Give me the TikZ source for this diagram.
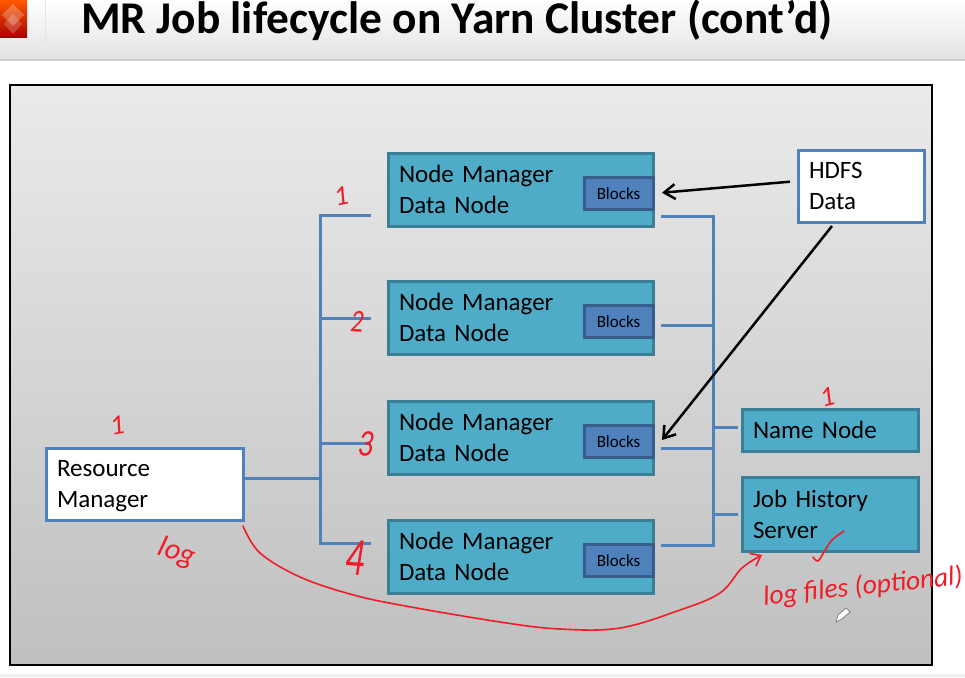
\documentclass[tikz,border=0pt]{standalone}
\usepackage{fontspec}
\setmainfont{Carlito}
\usetikzlibrary{arrows.meta}
\definecolor{tealfill}{HTML}{4FACC8}
\definecolor{tealline}{HTML}{3A7F95}
\definecolor{bluefill}{HTML}{4F81BD}
\definecolor{blueline}{HTML}{385D8A}
\definecolor{penred}{HTML}{F01C28}
\tikzset{
	nodebox/.style={draw=tealline,fill=tealfill,line width=3pt,anchor=north west,minimum height=#1,outer sep=0pt,
		text width=243pt,inner xsep=11pt,inner ysep=0pt,align=left,font=\fontsize{25}{31}\selectfont},
	nodebox/.default=73pt,
	whitebox/.style={nodebox=#1,draw=bluefill,fill=white},
	blockbox/.style={draw=blueline,fill=bluefill,line width=3pt,anchor=east,minimum width=69pt,minimum height=32pt,
		inner sep=0pt,outer sep=0pt,font=\fontsize{17}{20}\selectfont},
	bus/.style={draw=bluefill,line width=3pt},
	feed/.style={draw=black,line width=2.5pt,-{Straight Barb[length=11pt,width=15pt]}},
	ink/.style={draw=penred,line width=1.6pt,line cap=round,line join=round},
	scrawl/.style={text=penred,inner sep=0pt,font=\itshape}
}
\begin{document}
\begin{tikzpicture}[x=1pt,y=-1pt]
	\useasboundingbox (0,0) rectangle (965,677);
	\clip (0,0) rectangle (965,677);
	
	\fill[white] (0,0) rectangle (965,677);
	\shade[top color=white,bottom color=black!11] (0,0) rectangle (965,59);
	\fill[black!19] (0,59) rectangle (965,61);
	\fill[black!10] (45,0) rectangle (46,45);
	\shade[top color=orange!70!red,bottom color=red!65!black] (0,0) rectangle (27,38);
	\fill[white,opacity=0.25] (13,4) -- (24,15) -- (13,26) -- (2,15) -- cycle;
	\fill[white,opacity=0.2] (13,14) -- (22,24) -- (13,34) -- (4,24) -- cycle;
	\fill[blue!5!black!5] (0,674) rectangle (965,677);
	
	\node[anchor=west,inner sep=0pt,font=\fontsize{45.4}{50}\selectfont\bfseries] (title) at (81,20) {MR Job lifecycle on Yarn Cluster (cont'd)};
	
	\draw[draw=black,line width=1.3pt,top color=black!8,bottom color=black!25] (10,85) rectangle (932,665);
	
	\foreach \i/\y in {1/153,2/281,3/401,4/520}
	\node[nodebox] (nm\i) at (388,\y) {Node Manager\\Data Node};
	\foreach \i in {1,2,3,4}
	\node[blockbox] (blocks\i) at ([yshift=-4pt]nm\i.east) {Blocks};
	
	\node[whitebox=72pt,text width=104pt] (hdfs) at (798,150) {HDFS\\Data};
	\node[whitebox=72pt,text width=175pt,text depth=31pt] (rm) at (46,448) {Resource\\Manager};
	\node[nodebox=42pt,text width=154pt] (namenode) at (742,409) {Name Node};
	\node[nodebox=74pt,text width=154pt] (history) at (742,477) {Job History\\Server};
	
	\foreach \i/\y in {1/215,2/318,3/443,4/543}
	{
		\coordinate (lstub\i) at (371,\y);
		\coordinate (lbus\i) at (320,\y);
	}
	\foreach \i/\y in {1/216,2/325,3/448,4/545}
	{
		\coordinate (rstub\i) at (661,\y);
		\coordinate (rbus\i) at (713,\y);
	}
	
	\draw[bus] (lstub1) -- (lbus1) -- (lbus4) -- (lstub4);
	\draw[bus] (lstub2) -- (lbus2);
	\draw[bus] (lstub3) -- (lbus3);
	\draw[bus] ([yshift=6pt]rm.east -| lbus1) -- ([yshift=6pt]rm.east);
	
	\draw[bus] (rstub1) -- (rbus1) -- (rbus4) -- (rstub4);
	\draw[bus] (rstub2) -- (rbus2);
	\draw[bus] (rstub3) -- (rbus3);
	\draw[bus,shorten >=4pt] ([yshift=3pt]namenode.west -| rbus1) -- ([yshift=3pt]namenode.west);
	\draw[bus,shorten >=4pt] (history.west -| rbus1) -- (history.west);
	
	\coordinate (hdfsout) at (832,226);
	\coordinate (blocksin) at (662,440);
	\draw[feed,shorten <=8pt,shorten >=9pt] ([yshift=5pt]hdfs.west) -- (blocks1.east);
	\draw[feed] (hdfsout) -- (blocksin);
	
	\node[scrawl,rotate=12,font=\itshape\fontsize{28}{28}\selectfont] (tick1) at (341,196) {1};
	\node[scrawl,rotate=-4,xscale=0.8,font=\itshape\fontsize{32}{32}\selectfont] (tick2) at (357,322) {2};
	\node[scrawl,rotate=-4,xscale=0.8,font=\itshape\fontsize{38}{38}\selectfont] (tick3) at (366,444) {3};
	\node[scrawl,rotate=-4,xscale=0.7,font=\itshape\fontsize{54}{54}\selectfont] (tick4) at (355,558) {4};
	\node[scrawl,rotate=10,font=\itshape\fontsize{28}{28}\selectfont] (tickrm) at (117,425) {1};
	\node[scrawl,rotate=14,font=\itshape\fontsize{28}{28}\selectfont] (ticknn) at (827,397) {1};
	\node[scrawl,rotate=-18,font=\itshape\fontsize{30}{30}\selectfont] (logrm) at (177,553) {log};
	\node[scrawl,rotate=6,font=\itshape\fontsize{27.5}{28}\selectfont] (logfiles) at (863,587) {log files (optional)};
	
	\draw[ink,-{Straight Barb[length=9pt,width=14pt]}] plot[smooth,tension=0.6] coordinates {([yshift=-6pt]rm.south east) (260,553) (300,577) (350,594) (400,605) (500,622) (560,629) (620,628) (680,610) (720,593) (742,568) ([shift={(20pt,-4pt)}]history.south west)};
	\draw[ink] plot[smooth,tension=0.6] coordinates {(844,531) (832,540) (824,552) (818,561) (813,557)};
	
	% pencil cursor
	\draw[black!55,fill=white,line width=0.7pt] (836,622) -- (838,615) -- (846,608) -- (850,612) -- (842,619) -- cycle;
\end{tikzpicture}
\end{document}
